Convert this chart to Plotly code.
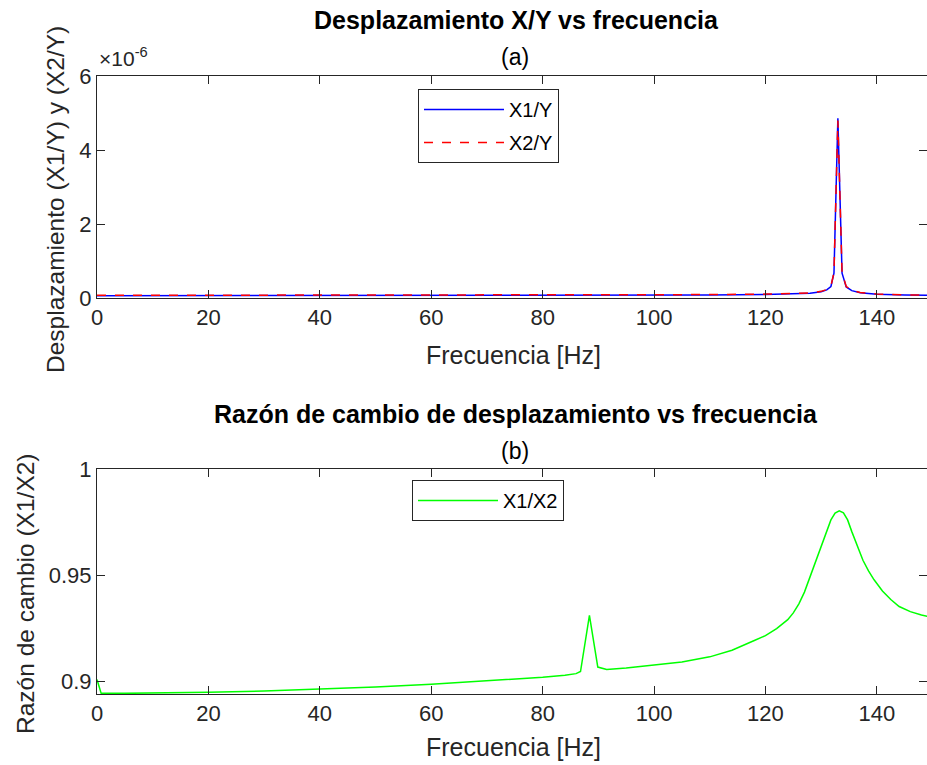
import plotly.graph_objects as go

# ---- (a) displacement transmissibility, values in units of 1e-6 ----
freq_a = [0, 10, 20, 40, 60, 80, 86, 88.4, 91, 100, 110, 120, 125, 128, 130,
          131, 131.75, 132.3, 133, 133.75, 134.5, 135.5, 137, 140, 145, 150]
x1_over_y = [0.062, 0.062, 0.062, 0.063, 0.065, 0.068, 0.070, 0.080, 0.072, 0.075,
             0.082, 0.095, 0.11, 0.13, 0.17, 0.22, 0.31, 0.67, 4.86, 0.67, 0.30,
             0.20, 0.14, 0.10, 0.08, 0.07]
x2_over_y = [0.072, 0.072, 0.072, 0.073, 0.075, 0.078, 0.080, 0.088, 0.082, 0.085,
             0.092, 0.105, 0.12, 0.14, 0.18, 0.23, 0.32, 0.69, 4.80, 0.69, 0.31,
             0.21, 0.15, 0.11, 0.085, 0.075]

# ---- (b) ratio X1/X2 ----
freq_b = [0, 0.75, 5, 10, 20, 30, 40, 50, 60, 70, 80, 84, 86, 86.8, 88.4, 89.9,
          91.5, 95, 100, 105, 110, 114, 118, 120, 122, 124, 125, 126, 127, 128,
          129, 130, 131, 131.75, 132.5, 133.25, 134, 134.75, 135.5, 136.5, 137.5,
          138.5, 139.5, 141, 142.5, 144, 146, 148, 150]
x1_over_x2 = [0.9008, 0.8943, 0.8943, 0.8944, 0.8948, 0.8954, 0.8962, 0.8973,
              0.8986, 0.9001, 0.9019, 0.9028, 0.9036, 0.9046, 0.9310, 0.9067,
              0.9056, 0.9062, 0.9075, 0.9091, 0.9115, 0.9146, 0.9192, 0.9215,
              0.9248, 0.9290, 0.9322, 0.9365, 0.9420, 0.9490, 0.9565, 0.9635,
              0.9705, 0.9760, 0.9792, 0.9803, 0.9793, 0.9760, 0.9705, 0.9635,
              0.9570, 0.9520, 0.9478, 0.9425, 0.9385, 0.9352, 0.9328, 0.9312,
              0.9300]

x_ticks = [0, 20, 40, 60, 80, 100, 120, 140]
ya_ticks = [0, 2, 4, 6]
yb_ticks = [0.9, 0.95, 1.0]
yb_labels = ["0.9", "0.95", "1"]

FONT = "Liberation Sans, Arial, sans-serif"
AX = "#262626"
W, H = 927, 765
L = 97
PW = W - L

fig = go.Figure()
fig.add_trace(go.Scatter(x=freq_a, y=x1_over_y, mode="lines", name="X1/Y",
                         line=dict(color="#0000ff", width=1.5), legendgroup="a1",
                         xaxis="x", yaxis="y", legend="legend"))
fig.add_trace(go.Scatter(x=freq_a, y=x2_over_y, mode="lines", name="X2/Y",
                         line=dict(color="#ff0000", width=1.5, dash="dash"),
                         legendgroup="a2", xaxis="x", yaxis="y", legend="legend"))
fig.add_trace(go.Scatter(x=freq_b, y=x1_over_x2, mode="lines", name="X1/X2",
                         line=dict(color="#00ff00", width=1.5),
                         xaxis="x2", yaxis="y2", legend="legend2"))


def py(px):
    return 1 - px / H


def pxx(px):
    return (px - L) / PW


dom_a = [py(298), py(76)]
dom_b = [py(694), py(469)]

common_x = dict(range=[0, 149], tickvals=x_ticks, ticks="inside", ticklen=8,
                tickcolor=AX, showline=True, linecolor=AX, linewidth=1,
                mirror="ticks", showgrid=False, zeroline=False, automargin=False,
                tickfont=dict(size=22, color=AX, family=FONT))
common_y = dict(ticks="inside", ticklen=8, tickcolor=AX, showline=True,
                linecolor=AX, linewidth=1, showgrid=False, zeroline=False,
                automargin=False, tickfont=dict(size=22, color=AX, family=FONT))
right_y = dict(ticks="inside", ticklen=8, tickcolor=AX, showline=False,
               showgrid=False, zeroline=False, showticklabels=False, side="right",
               automargin=False)

leg_common = dict(xanchor="left", yanchor="top", bgcolor="white", bordercolor=AX,
                  borderwidth=1, font=dict(size=20, color="black", family=FONT),
                  itemwidth=80, tracegroupgap=4)

fig.update_layout(
    width=W, height=H,
    margin=dict(l=L, r=0, t=0, b=0, autoexpand=False),
    paper_bgcolor="white", plot_bgcolor="white",
    font=dict(family=FONT, color=AX),
    xaxis=dict(domain=[0, 1], anchor="y", **common_x),
    xaxis2=dict(domain=[0, 1], anchor="y2", **common_x),
    yaxis=dict(domain=dom_a, anchor="x", range=[0, 6], tickvals=ya_ticks, **common_y),
    yaxis2=dict(domain=dom_b, anchor="x2", range=[0.894, 1.0], tickvals=yb_ticks,
                ticktext=yb_labels, **common_y),
    yaxis3=dict(overlaying="y", anchor="x", range=[0, 6], tickvals=ya_ticks, **right_y),
    yaxis4=dict(overlaying="y2", anchor="x2", range=[0.894, 1.0], tickvals=yb_ticks, **right_y),
    legend=dict(x=pxx(418), y=py(89), **leg_common),
    legend2=dict(x=pxx(412), y=py(480), **leg_common),
    showlegend=True,
)

# empty traces on the right-hand tick axes so they are rendered
fig.add_trace(go.Scatter(x=[None], y=[None], xaxis="x", yaxis="y3", showlegend=False))
fig.add_trace(go.Scatter(x=[None], y=[None], xaxis="x2", yaxis="y4", showlegend=False))

texts = [
    dict(text="<b>Desplazamiento X/Y vs frecuencia</b>", x=pxx(516), y=py(20),
         font=dict(size=25, color="black")),
    dict(text="(a)", x=pxx(515), y=py(57), font=dict(size=23, color="black")),
    dict(text="<b>Razón de cambio de desplazamiento vs frecuencia</b>", x=pxx(516),
         y=py(414), font=dict(size=25, color="black")),
    dict(text="(b)", x=pxx(515), y=py(451), font=dict(size=23, color="black")),
    dict(text="Frecuencia [Hz]", x=pxx(513), y=py(355), font=dict(size=25, color=AX)),
    dict(text="Frecuencia [Hz]", x=pxx(513), y=py(747), font=dict(size=25, color=AX)),
    dict(text="Desplazamiento (X1/Y) y (X2/Y)", x=pxx(56), y=py(200), textangle=-90,
         font=dict(size=24.5, color=AX)),
    dict(text="Razón de cambio (X1/X2)", x=pxx(25), y=py(594), textangle=-90,
         font=dict(size=24.5, color=AX)),
]
for a in texts:
    fig.add_annotation(xref="paper", yref="paper", xanchor="center", yanchor="middle",
                       showarrow=False, **a)
fig.add_annotation(xref="paper", yref="paper", x=0, y=py(72), xanchor="left",
                   yanchor="bottom", showarrow=False, text="×10<sup>-6</sup>",
                   font=dict(size=21, color=AX))

fig.write_html("out.html")
